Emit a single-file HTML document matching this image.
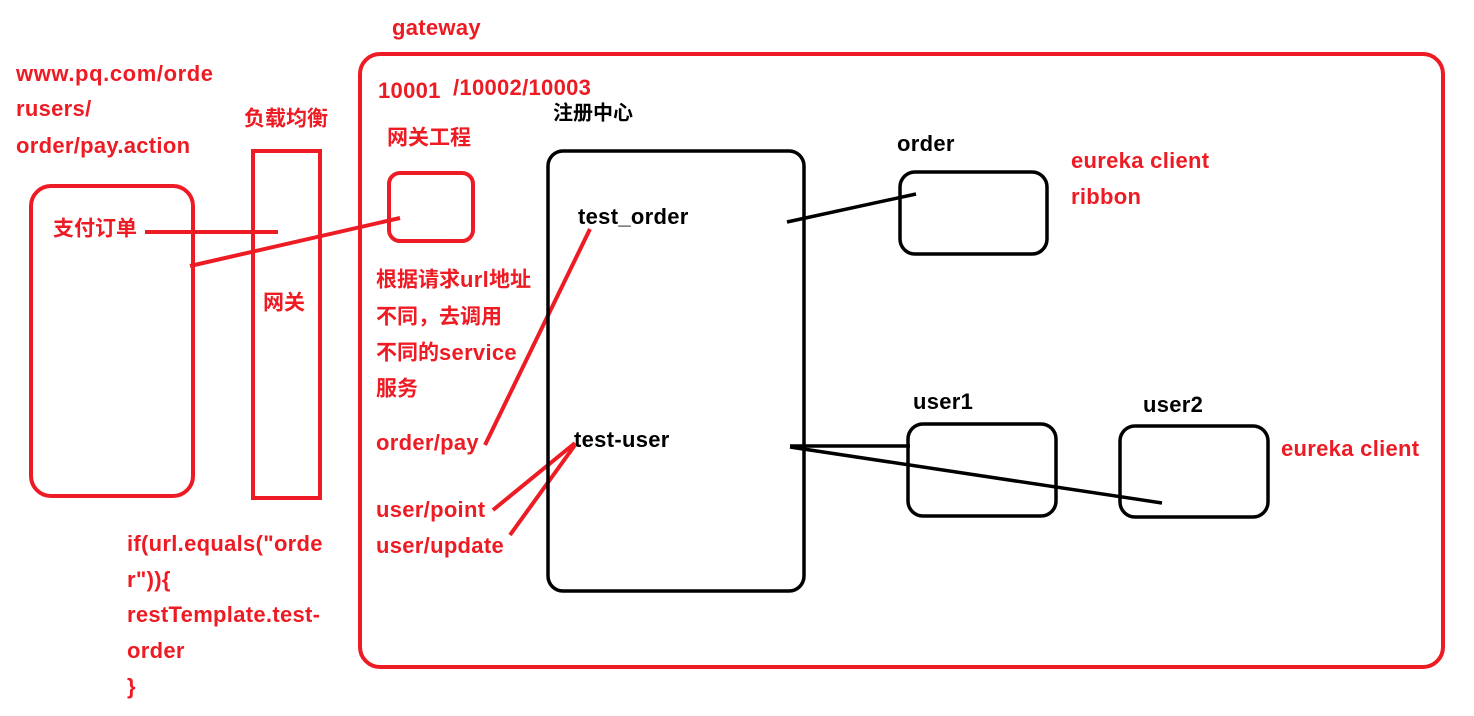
<!DOCTYPE html>
<html><head><meta charset="utf-8"><style>
html,body{margin:0;padding:0;background:#fff;width:1474px;height:716px;overflow:hidden}
text{font-family:"Liberation Sans","Noto Sans CJK SC",sans-serif;font-weight:bold;font-size:21px;dominant-baseline:middle}
.l{font-size:22px;letter-spacing:0.3px}
.r{fill:#ed1c24}.k{fill:#000}
</style></head><body>
<svg width="1474" height="716" xmlns="http://www.w3.org/2000/svg">
<g fill="none" stroke="#ed1c24" stroke-width="4">
<rect x="360" y="54" width="1083" height="613" rx="20"/>
<rect x="253" y="151" width="67" height="347"/>
<rect x="31" y="186" width="162" height="310" rx="20"/>
<rect x="389" y="173" width="84" height="68" rx="11"/>
<line x1="145" y1="232" x2="278" y2="232"/>
<line x1="190" y1="266" x2="400" y2="218"/>
<line x1="485" y1="445" x2="590" y2="229"/>
<line x1="493" y1="510" x2="575" y2="443"/>
<line x1="510" y1="535" x2="575" y2="445"/>
</g>
<g fill="none" stroke="#000" stroke-width="3.5">
<rect x="548" y="151" width="256" height="440" rx="15"/>
<rect x="900" y="172" width="147" height="82" rx="15"/>
<rect x="908" y="424" width="148" height="92" rx="15"/>
<rect x="1120" y="426" width="148" height="91" rx="15"/>
<line x1="787" y1="222" x2="916" y2="194"/>
<line x1="790" y1="446" x2="910" y2="446"/>
<line x1="790" y1="447" x2="1162" y2="503"/>
</g>
<g transform="translate(0,2)">
<text class="r l" x="392" y="27">gateway</text>
<text class="r l" x="16" y="73" style="letter-spacing:0.6px">www.pq.com/orde</text>
<text class="r l" x="16" y="108">rusers/</text>
<text class="r l" x="16" y="145">order/pay.action</text>
<text class="r" x="244" y="118">负载均衡</text>
<text class="r" x="263" y="302">网关</text>
<text class="r" x="53" y="228">支付订单</text>
<text class="r l" x="378" y="90">10001</text>
<text class="r l" x="453" y="87">/10002/10003</text>
<text class="r" x="387" y="137">网关工程</text>
<text class="r" x="376" y="279">根据请求<tspan class="l">url</tspan>地址</text>
<text class="r" x="376" y="316">不同，去调用</text>
<text class="r" x="376" y="352">不同的<tspan class="l">service</tspan></text>
<text class="r" x="376" y="388">服务</text>
<text class="r l" x="376" y="442">order/pay</text>
<text class="r l" x="376" y="509">user/point</text>
<text class="r l" x="376" y="545">user/update</text>
<text class="k" x="553" y="112" style="font-size:20px">注册中心</text>
<text class="k l" x="578" y="216">test_order</text>
<text class="k l" x="574" y="439">test-user</text>
<text class="k l" x="897" y="143">order</text>
<text class="r l" x="1071" y="160">eureka client</text>
<text class="r l" x="1071" y="196">ribbon</text>
<text class="k l" x="913" y="401">user1</text>
<text class="k l" x="1143" y="404">user2</text>
<text class="r l" x="1281" y="448">eureka client</text>
<text class="r l" x="127" y="543">if(url.equals("orde</text>
<text class="r l" x="127" y="579">r")){</text>
<text class="r l" x="127" y="614">restTemplate.test-</text>
<text class="r l" x="127" y="650">order</text>
<text class="r l" x="127" y="686">}</text>
</g>
</svg>
</body></html>
